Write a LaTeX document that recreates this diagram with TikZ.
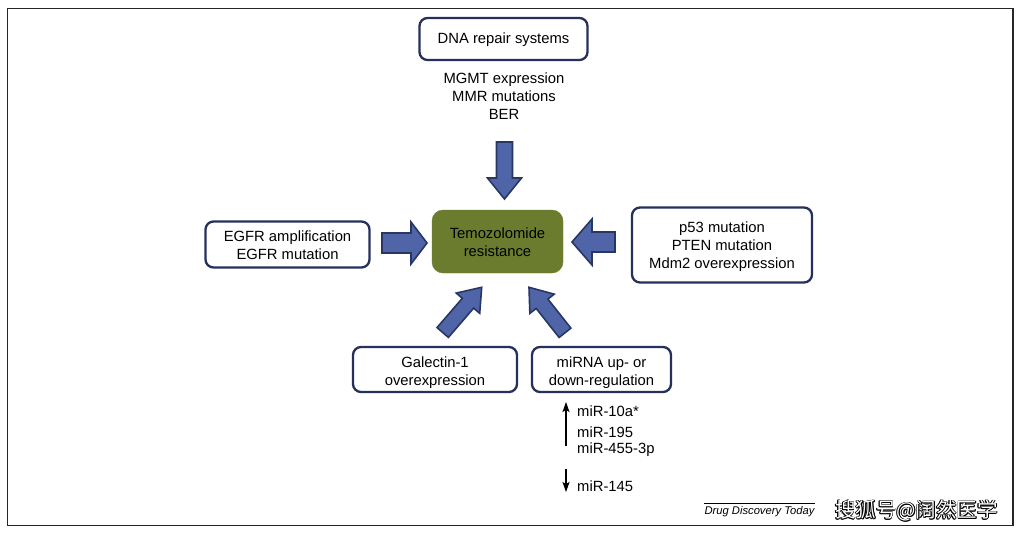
\documentclass[tikz,border=0pt]{standalone}
\usepackage{fontspec}
\setmainfont{Liberation Sans}
\newfontfamily\cjkfont{Noto Sans CJK SC}
\usetikzlibrary{calc,arrows.meta}
\definecolor{navy}{RGB}{38,48,90}
\definecolor{arrfill}{RGB}{80,101,168}
\definecolor{arrline}{RGB}{40,54,100}
\definecolor{tmzgreen}{RGB}{107,124,47}
\newcommand\lowered[2]{\raisebox{-#1}[\height][\depth]{\begin{tabular}{@{}c@{}}#2\end{tabular}}}
\tikzset{
  box/.style={draw=navy, line width=2.3pt, rounded corners=8pt, fill=white, align=center, inner sep=0pt},
  txt/.style={align=center, inner sep=0pt, font=\fontsize{14.8}{18}\selectfont},
  mir/.style={anchor=west, inner sep=0pt, font=\fontsize{14.8}{18}\selectfont},
  barrow/.style={fill=arrfill, draw=arrline, line width=1.6pt, line join=miter},
  thinarrow/.style={line width=1.1pt, -{Stealth[length=10pt,width=7pt,inset=2pt]}},
}
\newcommand\blockarr[5]{%
  \coordinate (hb) at ($(#2)!#5pt!(#1)$);
  \draw[barrow] ($(#1)!#3pt!90:(#2)$) -- ($(hb)!#3pt!-90:(#1)$) -- ($(hb)!#4pt!-90:(#1)$) -- (#2)
     -- ($(hb)!#4pt!90:(#1)$) -- ($(hb)!#3pt!90:(#1)$) -- ($(#1)!#3pt!-90:(#2)$) -- cycle;}
\begin{document}
\begin{tikzpicture}[x=1pt,y=-1pt, font=\fontsize{14.8}{18}\selectfont]
\renewcommand\arraystretch{1}
\useasboundingbox (0,0) rectangle (1020,533);
\fill[white] (0,0) rectangle (1020,533);
\draw[line width=1.2pt, black!85] (7.5,8.5) rectangle (1013,525.5);

% boxes
\node[box, minimum width=168pt, minimum height=42pt, text depth=1pt] (dna) at (503.5,39) {DNA repair systems};
\node[txt] (dnalist) at (504,96) {MGMT expression\\MMR mutations\\BER};
\node[box, minimum width=164pt, minimum height=46pt] (egfr) at (287.5,244.5) {\lowered{2pt}{EGFR amplification\\EGFR mutation}};
\node[draw=tmzgreen, fill=tmzgreen, rounded corners=11pt, minimum width=131pt, minimum height=63pt, align=center, inner sep=0pt, text=black] (tmz) at (497.5,241.5) {\lowered{2pt}{Temozolomide\\resistance}};
\node[box, minimum width=180pt, minimum height=75pt] (p53) at (722,245) {\lowered{2pt}{p53 mutation\\PTEN mutation\\Mdm2 overexpression}};
\node[box, minimum width=164pt, minimum height=45pt] (gal) at (435,369.5) {\lowered{3.5pt}{Galectin-1\\overexpression}};
\node[box, minimum width=139pt, minimum height=45pt] (mirna) at (601.5,369.5) {\lowered{3.5pt}{miRNA up- or\\down-regulation}};

% block arrows
\coordinate (t1) at (504.5,142); \coordinate (h1) at (504.5,199);
\blockarr{t1}{h1}{8}{17}{21}
\coordinate (t2) at (382,243); \coordinate (h2) at (427,243);
\blockarr{t2}{h2}{10}{21}{16}
\coordinate (t3) at (615,242); \coordinate (h3) at (572,242);
\blockarr{t3}{h3}{10}{23}{20}
\coordinate (t4) at (442.7,332.5); \coordinate (h4) at (481.7,287.3);
\blockarr{t4}{h4}{7.5}{15.5}{21}
\coordinate (t5) at (565,332.8); \coordinate (h5) at (529,287.3);
\blockarr{t5}{h5}{7.5}{15.5}{21}

% miRNA list
\node[mir] (m1) at (577,411) {miR-10a*};
\node[mir] (m2) at (577,432) {miR-195};
\node[mir] (m3) at (577,450) {miR-455-3p};
\node[mir] (m4) at (577,486) {miR-145};
\coordinate (ua) at (566,446); \coordinate (ub) at (566,402);
\draw[thinarrow] (ua) -- (ub);
\coordinate (da) at (566,469); \coordinate (db) at (566,492);
\draw[thinarrow] (da) -- (db);

% source
\node[inner sep=0pt, font=\fontsize{11.2}{13}\itshape] (ddt) at (759.5,511.5) {Drug Discovery Today};
\draw[line width=0.8pt] ($(ddt.west)+(0,-8.5)$) -- ($(ddt.east)+(0,-8.5)$);

% watermark
\foreach \dx/\dy in {0.7/0,-0.7/0,0/0.7,0/-0.7,0.5/0.5,-0.5/0.5,0.5/-0.5,-0.5/-0.5}{
  \node[inner sep=0pt, font=\fontsize{20.5}{22}\cjkfont, text=black] at ($(916.5,511)+(\dx,\dy)$) {搜狐号@阔然医学};
}
\node[inner sep=0pt, font=\fontsize{20.5}{22}\cjkfont, text=white] (wm) at (916.5,511) {搜狐号@阔然医学};
\end{tikzpicture}
\end{document}
